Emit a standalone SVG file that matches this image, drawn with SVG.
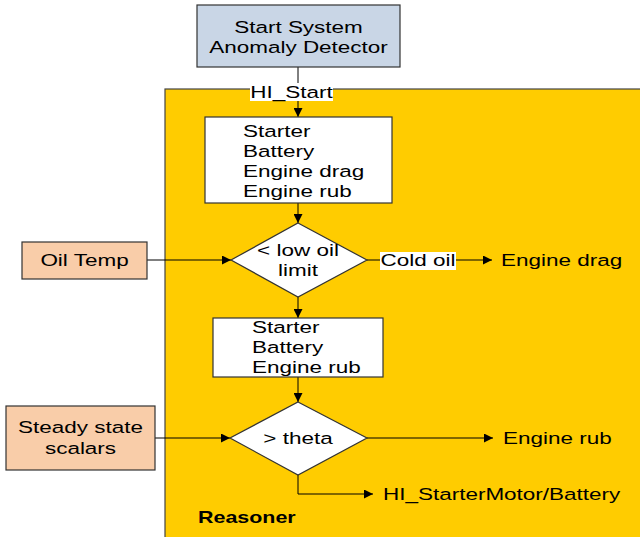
<svg xmlns="http://www.w3.org/2000/svg" width="640" height="537" viewBox="0 0 640 537">
<defs>
<style>
text{font-family:"Liberation Sans",Arial,sans-serif;font-size:17.3px;fill:#000}
.b{font-weight:bold;font-size:16.5px}
.m{text-anchor:middle}
.box{stroke:#333;stroke-width:1.2}
.ln{stroke:#000;stroke-width:1;fill:none}
</style>
<marker id="ah" viewBox="0 0 10 10" refX="10" refY="5" markerWidth="13" markerHeight="9" markerUnits="userSpaceOnUse" orient="auto">
<path d="M0,0 L10,5 L0,10 z" fill="#000"/>
</marker>
</defs>
<rect width="640" height="537" fill="#fff"/>
<g id="reasoner">
<rect x="165" y="89" width="480" height="460" fill="#FFCC00" stroke="#444" stroke-width="1.2"/>
<text class="b" transform="translate(198,523) scale(1.3,1)">Reasoner</text>
</g>
<g id="connectors">
<line class="ln" x1="298" y1="67" x2="298" y2="117" marker-end="url(#ah)"/>
<line class="ln" x1="298" y1="203" x2="298" y2="223" marker-end="url(#ah)"/>
<line class="ln" x1="147" y1="260" x2="231" y2="260" marker-end="url(#ah)"/>
<line class="ln" x1="367" y1="260" x2="492" y2="260" marker-end="url(#ah)"/>
<line class="ln" x1="298" y1="297" x2="298" y2="318" marker-end="url(#ah)"/>
<line class="ln" x1="298" y1="377" x2="298" y2="402" marker-end="url(#ah)"/>
<line class="ln" x1="155" y1="438" x2="230" y2="438" marker-end="url(#ah)"/>
<line class="ln" x1="367" y1="438" x2="493" y2="438" marker-end="url(#ah)"/>
<polyline class="ln" points="298,475 298,494 373,494" marker-end="url(#ah)"/>
<g id="label-hi-start">
<rect x="250" y="83" width="83" height="18" fill="#fff"/>
<text transform="translate(291.5,98) scale(1.3,1)" class="m">HI_Start</text>
</g>
<g id="label-cold-oil">
<rect x="380" y="252" width="76" height="18" fill="#fff"/>
<text transform="translate(418,266) scale(1.3,1)" class="m">Cold oil</text>
</g>
</g>
<g id="anomaly-detector">
<rect class="box" x="197" y="5" width="203" height="62" fill="#C9D6E6"/>
<text class="m" transform="translate(298.5,33) scale(1.3,1)">Start System</text>
<text class="m" transform="translate(298.5,53) scale(1.3,1)">Anomaly Detector</text>
</g>
<g id="box1">
<rect class="box" x="205" y="117" width="187" height="86" fill="#fff"/>
<text transform="translate(243,137) scale(1.3,1)">Starter</text>
<text transform="translate(243,157) scale(1.3,1)">Battery</text>
<text transform="translate(243,177) scale(1.3,1)">Engine drag</text>
<text transform="translate(243,197) scale(1.3,1)">Engine rub</text>
</g>
<g id="diamond1">
<polygon class="box" points="298,223 367,260 298,297 231,260" fill="#fff"/>
<text class="m" transform="translate(298,256) scale(1.3,1)">&lt; low oil</text>
<text class="m" transform="translate(298,276) scale(1.3,1)">limit</text>
</g>
<g id="oil-temp">
<rect class="box" x="22" y="242" width="125" height="37" fill="#F9CDA9"/>
<text class="m" transform="translate(84.5,266) scale(1.3,1)">Oil Temp</text>
</g>
<g id="engine-drag">
<text transform="translate(501,266) scale(1.3,1)">Engine drag</text>
</g>
<g id="box2">
<rect class="box" x="213" y="318" width="170" height="59" fill="#fff"/>
<text transform="translate(252,333) scale(1.3,1)">Starter</text>
<text transform="translate(252,353) scale(1.3,1)">Battery</text>
<text transform="translate(252,373) scale(1.3,1)">Engine rub</text>
</g>
<g id="diamond2">
<polygon class="box" points="298,402 367,438 298,475 230,438" fill="#fff"/>
<text class="m" transform="translate(298,444) scale(1.3,1)">&gt; theta</text>
</g>
<g id="steady-state">
<rect class="box" x="6" y="406" width="149" height="64" fill="#F9CDA9"/>
<text class="m" transform="translate(80.5,433) scale(1.3,1)">Steady state</text>
<text class="m" transform="translate(80.5,454) scale(1.3,1)">scalars</text>
</g>
<g id="engine-rub">
<text transform="translate(503,444) scale(1.3,1)">Engine rub</text>
</g>
<g id="hi-starter">
<text transform="translate(383,500) scale(1.3,1)">HI_StarterMotor/Battery</text>
</g>
</svg>
